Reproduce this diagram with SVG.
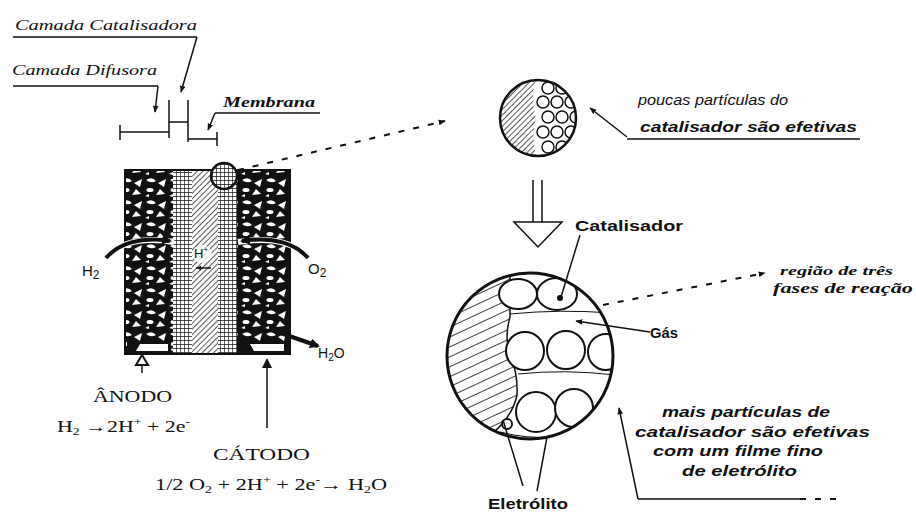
<svg xmlns="http://www.w3.org/2000/svg" width="916" height="513" viewBox="0 0 916 513">
  <style>
    .lbl-serif { font-family: "Liberation Serif", "DejaVu Serif", serif; fill: #111; }
    .lbl-sans { font-family: "Liberation Sans", "DejaVu Sans", sans-serif; fill: #111; }
    .it { font-style: italic; }
    .bd { font-weight: bold; }
    .line { stroke: #111; stroke-width: 1.5; fill: none; }
    .thin { stroke: #111; stroke-width: 1; fill: none; }
    .dash { stroke: #111; stroke-width: 2; fill: none; stroke-dasharray: 6 9; }
  </style>
  <defs>
    <!-- porous diffusion layer: black with white voids -->
    <pattern id="porous" width="24" height="22" patternUnits="userSpaceOnUse">
      <rect width="24" height="22" fill="#111"/>
      <path d="M2,4 q6,-4 10,1 q-5,3 -10,-1z" fill="#fff"/>
      <path d="M14,7 l8,-4 l-2,8z" fill="#fff"/>
      <ellipse cx="6" cy="14" rx="3.5" ry="2" fill="#fff"/>
      <path d="M12,19 l9,-1 l-5,-5z" fill="#fff"/>
      <path d="M1,20 l4,-2 l0,3z" fill="#fff"/>
    </pattern>
    <!-- catalyst layer: fine grid -->
    <pattern id="grid" width="4" height="4" patternUnits="userSpaceOnUse">
      <rect width="4" height="4" fill="#fff"/>
      <path d="M0,0H4M0,0V4" stroke="#111" stroke-width="1.3"/>
    </pattern>
    <!-- membrane hatching -->
    <pattern id="hatchFine" width="4" height="4" patternUnits="userSpaceOnUse" patternTransform="rotate(45)">
      <rect width="4" height="4" fill="#fff"/>
      <line x1="0" y1="0" x2="0" y2="4" stroke="#111" stroke-width="1.4"/>
    </pattern>
    <!-- electrolyte hatching: shallow rising lines -->
    <pattern id="hatchWide" width="9" height="9" patternUnits="userSpaceOnUse" patternTransform="rotate(-25)">
      <rect width="9" height="9" fill="#fff"/>
      <line x1="0" y1="0" x2="9" y2="0" stroke="#111" stroke-width="1.6"/>
    </pattern>
    <clipPath id="bigClip"><circle cx="530" cy="356" r="83"/></clipPath>
    <clipPath id="smallClip"><circle cx="538" cy="118" r="38"/></clipPath>
    <marker id="arr" viewBox="0 0 10 10" refX="9" refY="5" markerWidth="7" markerHeight="7" orient="auto-start-reverse" markerUnits="userSpaceOnUse">
      <path d="M0,1 L10,5 L0,9 Z" fill="#111"/>
    </marker>
    <marker id="arrBig" viewBox="0 0 10 10" refX="8" refY="5" markerWidth="10" markerHeight="10" orient="auto" markerUnits="userSpaceOnUse">
      <path d="M0,0 L10,5 L0,10 Z" fill="#111"/>
    </marker>
  </defs>

  <rect width="916" height="513" fill="#fff"/>

  <!-- layer labels, top left -->
  <g id="label-catalisadora">
    <text class="lbl-serif it" x="15" y="30" font-size="14" textLength="182" lengthAdjust="spacingAndGlyphs">Camada Catalisadora</text>
    <line class="line" x1="13" y1="37" x2="197" y2="37"/>
  </g>
  <g id="label-difusora">
    <text class="lbl-serif it" x="12" y="75" font-size="14" textLength="145" lengthAdjust="spacingAndGlyphs">Camada Difusora</text>
    <line class="line" x1="13" y1="86" x2="158" y2="86"/>
  </g>
  <g id="label-membrana">
    <text class="lbl-serif it bd" x="223" y="107" font-size="15" textLength="92" lengthAdjust="spacingAndGlyphs">Membrana</text>
    <line class="line" x1="215" y1="113" x2="320" y2="113"/>
  </g>

  <!-- dimension marks above the cell -->
  <g id="dimensions" class="line">
    <line x1="120" y1="132" x2="169" y2="132"/>
    <line x1="120" y1="125" x2="120" y2="140"/>
    <line x1="169" y1="100" x2="169" y2="138"/>
    <line x1="169" y1="122" x2="188" y2="122"/>
    <line x1="188" y1="100" x2="188" y2="142"/>
    <line x1="188" y1="139" x2="217" y2="139"/>
    <line x1="217" y1="132" x2="217" y2="146"/>
  </g>

  <!-- membrane electrode assembly -->
  <g id="cell">
    <rect x="125" y="170" width="48" height="184" fill="url(#porous)"/>
    <rect x="173" y="170" width="19" height="184" fill="url(#grid)"/>
    <rect x="192" y="170" width="26" height="184" fill="url(#hatchFine)"/>
    <rect x="218" y="170" width="19" height="184" fill="url(#grid)"/>
    <rect x="237" y="170" width="53" height="184" fill="url(#porous)"/>
    <!-- base cells -->
    <rect x="127" y="341" width="44" height="12" fill="#111"/>
    <path d="M140,344 h28 v7 h-32z" fill="#fff"/>
    <rect x="239" y="341" width="49" height="12" fill="#111"/>
    <path d="M250,344 h34 v7 h-30z" fill="#fff"/>
    <rect x="125" y="170" width="165" height="184" fill="none" stroke="#111" stroke-width="2"/>
    <ellipse cx="202" cy="254" rx="10" ry="9" fill="#fff" opacity="0.8"/>
    <text class="lbl-sans" x="194" y="258" font-size="13">H<tspan font-size="8" dy="-6">+</tspan></text>
    <path d="M196,268 h15" class="line"/>
    <path d="M197,268 l4,-2.5 v5z" fill="#111"/>
    <circle cx="224" cy="176" r="13" fill="url(#grid)" stroke="#111" stroke-width="2.5"/>
  </g>

  <g id="gas-labels">
    <text class="lbl-sans" x="82" y="276" font-size="15">H<tspan font-size="12" dy="3">2</tspan></text>
    <text class="lbl-sans" x="308" y="274" font-size="15">O<tspan font-size="12" dy="3">2</tspan></text>
    <text class="lbl-sans" x="318" y="358" font-size="14">H<tspan font-size="10" dy="3">2</tspan><tspan dy="-3">O</tspan></text>
  </g>

  <g id="anodo">
    <text class="lbl-serif" x="93" y="402" font-size="17" textLength="79" lengthAdjust="spacingAndGlyphs">ÂNODO</text>
    <text class="lbl-serif" x="57" y="432" font-size="16" textLength="133" lengthAdjust="spacingAndGlyphs">H<tspan font-size="10" dy="3">2</tspan><tspan dy="-3"> →2H</tspan><tspan font-size="10" dy="-7">+</tspan><tspan dy="7"> + 2e</tspan><tspan font-size="10" dy="-7">-</tspan></text>
  </g>
  <g id="catodo">
    <text class="lbl-serif" x="213" y="460" font-size="17" textLength="97" lengthAdjust="spacingAndGlyphs">CÁTODO</text>
    <text class="lbl-serif" x="155" y="490" font-size="16" textLength="232" lengthAdjust="spacingAndGlyphs">1/2 O<tspan font-size="10" dy="3">2</tspan><tspan dy="-3"> + 2H</tspan><tspan font-size="10" dy="-7">+</tspan><tspan dy="7"> + 2e</tspan><tspan font-size="10" dy="-7">-</tspan><tspan dy="7">→ H</tspan><tspan font-size="10" dy="3">2</tspan><tspan dy="-3">O</tspan></text>
  </g>

  <!-- zoomed particle view: few active particles -->
  <g id="detail-small">
    <g clip-path="url(#smallClip)">
      <rect x="498" y="78" width="80" height="80" fill="#fff"/>
      <path d="M498,78 H536 Q530,100 536,118 Q530,138 538,160 H498Z" fill="url(#hatchFine)"/>
      <g fill="#fff" stroke="#111" stroke-width="1.5">
        <circle cx="548" cy="88" r="6"/><circle cx="562" cy="88" r="6"/><circle cx="576" cy="88" r="6"/>
        <circle cx="543" cy="102" r="6"/><circle cx="557" cy="102" r="6"/><circle cx="571" cy="102" r="6"/>
        <circle cx="548" cy="117" r="6"/><circle cx="562" cy="117" r="6"/><circle cx="576" cy="117" r="6"/>
        <circle cx="543" cy="132" r="6"/><circle cx="557" cy="132" r="6"/><circle cx="571" cy="132" r="6"/>
        <circle cx="548" cy="147" r="6"/><circle cx="562" cy="147" r="6"/>
      </g>
    </g>
    <circle cx="538" cy="118" r="38" fill="none" stroke="#111" stroke-width="2.5"/>
  </g>
  <g id="note-poucas">
    <text class="lbl-sans it" x="638" y="105" font-size="15" textLength="150" lengthAdjust="spacingAndGlyphs">poucas partículas do</text>
    <text class="lbl-sans it bd" x="640" y="132" font-size="15" textLength="217" lengthAdjust="spacingAndGlyphs">catalisador são efetivas</text>
  </g>

  <!-- transition arrow -->
  <g id="down-arrow">
    <path d="M533,180 V222 M542,180 V222" class="line"/>
    <path d="M514,222 H562 L538,247 Z" fill="#fff" stroke="#111" stroke-width="1.5"/>
  </g>

  <!-- zoomed particle view: more active particles -->
  <g id="detail-large">
    <g clip-path="url(#bigClip)">
      <rect x="445" y="271" width="170" height="172" fill="#fff"/>
      <path d="M440,262 H510 L510,317 Q504,337 510,355 Q518,373 517,395 Q513,415 494,432 L440,446 Z" fill="url(#hatchWide)"/>
      <path d="M510,262 L510,317 Q504,337 510,355 Q518,373 517,395 Q513,415 494,432" class="line"/>
      <path d="M510,314 Q560,309 612,313" class="thin"/>
      <path d="M518,374 Q565,369 615,375" class="thin"/>
      <path d="M500,432 Q555,446 600,424" class="thin"/>
      <g fill="#fff" stroke="#111" stroke-width="2">
        <ellipse cx="518" cy="294" rx="19" ry="15"/>
        <ellipse cx="557" cy="294" rx="20" ry="16"/>
        <circle cx="525" cy="351" r="19"/>
        <circle cx="566" cy="350" r="19"/>
        <circle cx="606" cy="352" r="18"/>
        <circle cx="536" cy="412" r="20"/>
        <circle cx="574" cy="408" r="19"/>
        <circle cx="507" cy="424" r="5"/>
      </g>
      <circle cx="560" cy="298" r="3" fill="#111"/>
    </g>
    <circle cx="530" cy="356" r="83" fill="none" stroke="#111" stroke-width="3"/>
  </g>
  <g id="label-catalisador">
    <text class="lbl-sans bd" x="575" y="231" font-size="15" textLength="108" lengthAdjust="spacingAndGlyphs">Catalisador</text>
  </g>
  <g id="label-gas">
    <text class="lbl-sans bd" x="650" y="338" font-size="15" textLength="28" lengthAdjust="spacingAndGlyphs">Gás</text>
  </g>
  <g id="note-regiao">
    <text class="lbl-serif it bd" x="780" y="275" font-size="13" textLength="113" lengthAdjust="spacingAndGlyphs">região de três</text>
    <text class="lbl-serif it bd" x="773" y="293" font-size="14" textLength="140" lengthAdjust="spacingAndGlyphs">fases de reação</text>
  </g>
  <g id="note-mais">
    <text class="lbl-sans it bd" x="662" y="417" font-size="14" textLength="168" lengthAdjust="spacingAndGlyphs">mais partículas de</text>
    <text class="lbl-sans it bd" x="635" y="437" font-size="14" textLength="235" lengthAdjust="spacingAndGlyphs">catalisador são efetivas</text>
    <text class="lbl-sans it bd" x="653" y="456" font-size="14" textLength="170" lengthAdjust="spacingAndGlyphs">com um filme fino</text>
    <text class="lbl-sans it bd" x="682" y="476" font-size="14" textLength="115" lengthAdjust="spacingAndGlyphs">de eletrólito</text>
  </g>
  <g id="label-eletrolito">
    <text class="lbl-sans bd" x="488" y="509" font-size="15" textLength="80" lengthAdjust="spacingAndGlyphs">Eletrólito</text>
  </g>

  <!-- connectors -->
  <g id="connectors">
    <path class="line" d="M197,37 L181,92" marker-end="url(#arr)"/>
    <path class="line" d="M158,86 L155,112" marker-end="url(#arr)"/>
    <path class="line" d="M215,113 L208,130" marker-end="url(#arr)"/>
    <!-- reactant and product flows -->
    <path d="M106,258 C118,244 140,236 174,242" stroke="#fff" stroke-width="6" fill="none"/>
    <path d="M106,258 C118,244 140,236 170,241" stroke="#111" stroke-width="4" fill="none" marker-end="url(#arrBig)"/>
    <path d="M308,258 C296,244 274,236 238,242" stroke="#fff" stroke-width="6" fill="none"/>
    <path d="M308,258 C296,244 274,236 242,241" stroke="#111" stroke-width="4" fill="none" marker-end="url(#arrBig)"/>
    <path d="M272,330 L318,346" stroke="#111" stroke-width="4" fill="none" marker-end="url(#arrBig)"/>
    <!-- electrode pointers -->
    <path class="line" d="M142,373 V360"/>
    <path d="M136,365 L142,355 L148,365 Z" fill="#fff" stroke="#111" stroke-width="2"/>
    <path class="line" d="M267,428 V360" marker-end="url(#arrBig)"/>
    <!-- magnification link -->
    <path class="dash" d="M238,170 L445,121" marker-end="url(#arr)"/>
    <!-- note pointers -->
    <path class="line" d="M627,137 L590,108" marker-end="url(#arr)"/>
    <line class="line" x1="627" y1="139" x2="860" y2="139"/>
    <path class="line" d="M580,235 L561,297"/>
    <path class="line" d="M650,332 L576,321" marker-end="url(#arr)"/>
    <path class="dash" d="M603,305 L765,273" marker-end="url(#arr)"/>
    <path class="line" d="M503,420 L523,486 M547,437 L537,491"/>
    <path class="line" d="M638,499 L619,408" marker-end="url(#arr)"/>
    <path class="line" d="M638,499 H800"/>
    <path class="dash" d="M800,499 H845" stroke-width="1.5"/>
  </g>
</svg>
